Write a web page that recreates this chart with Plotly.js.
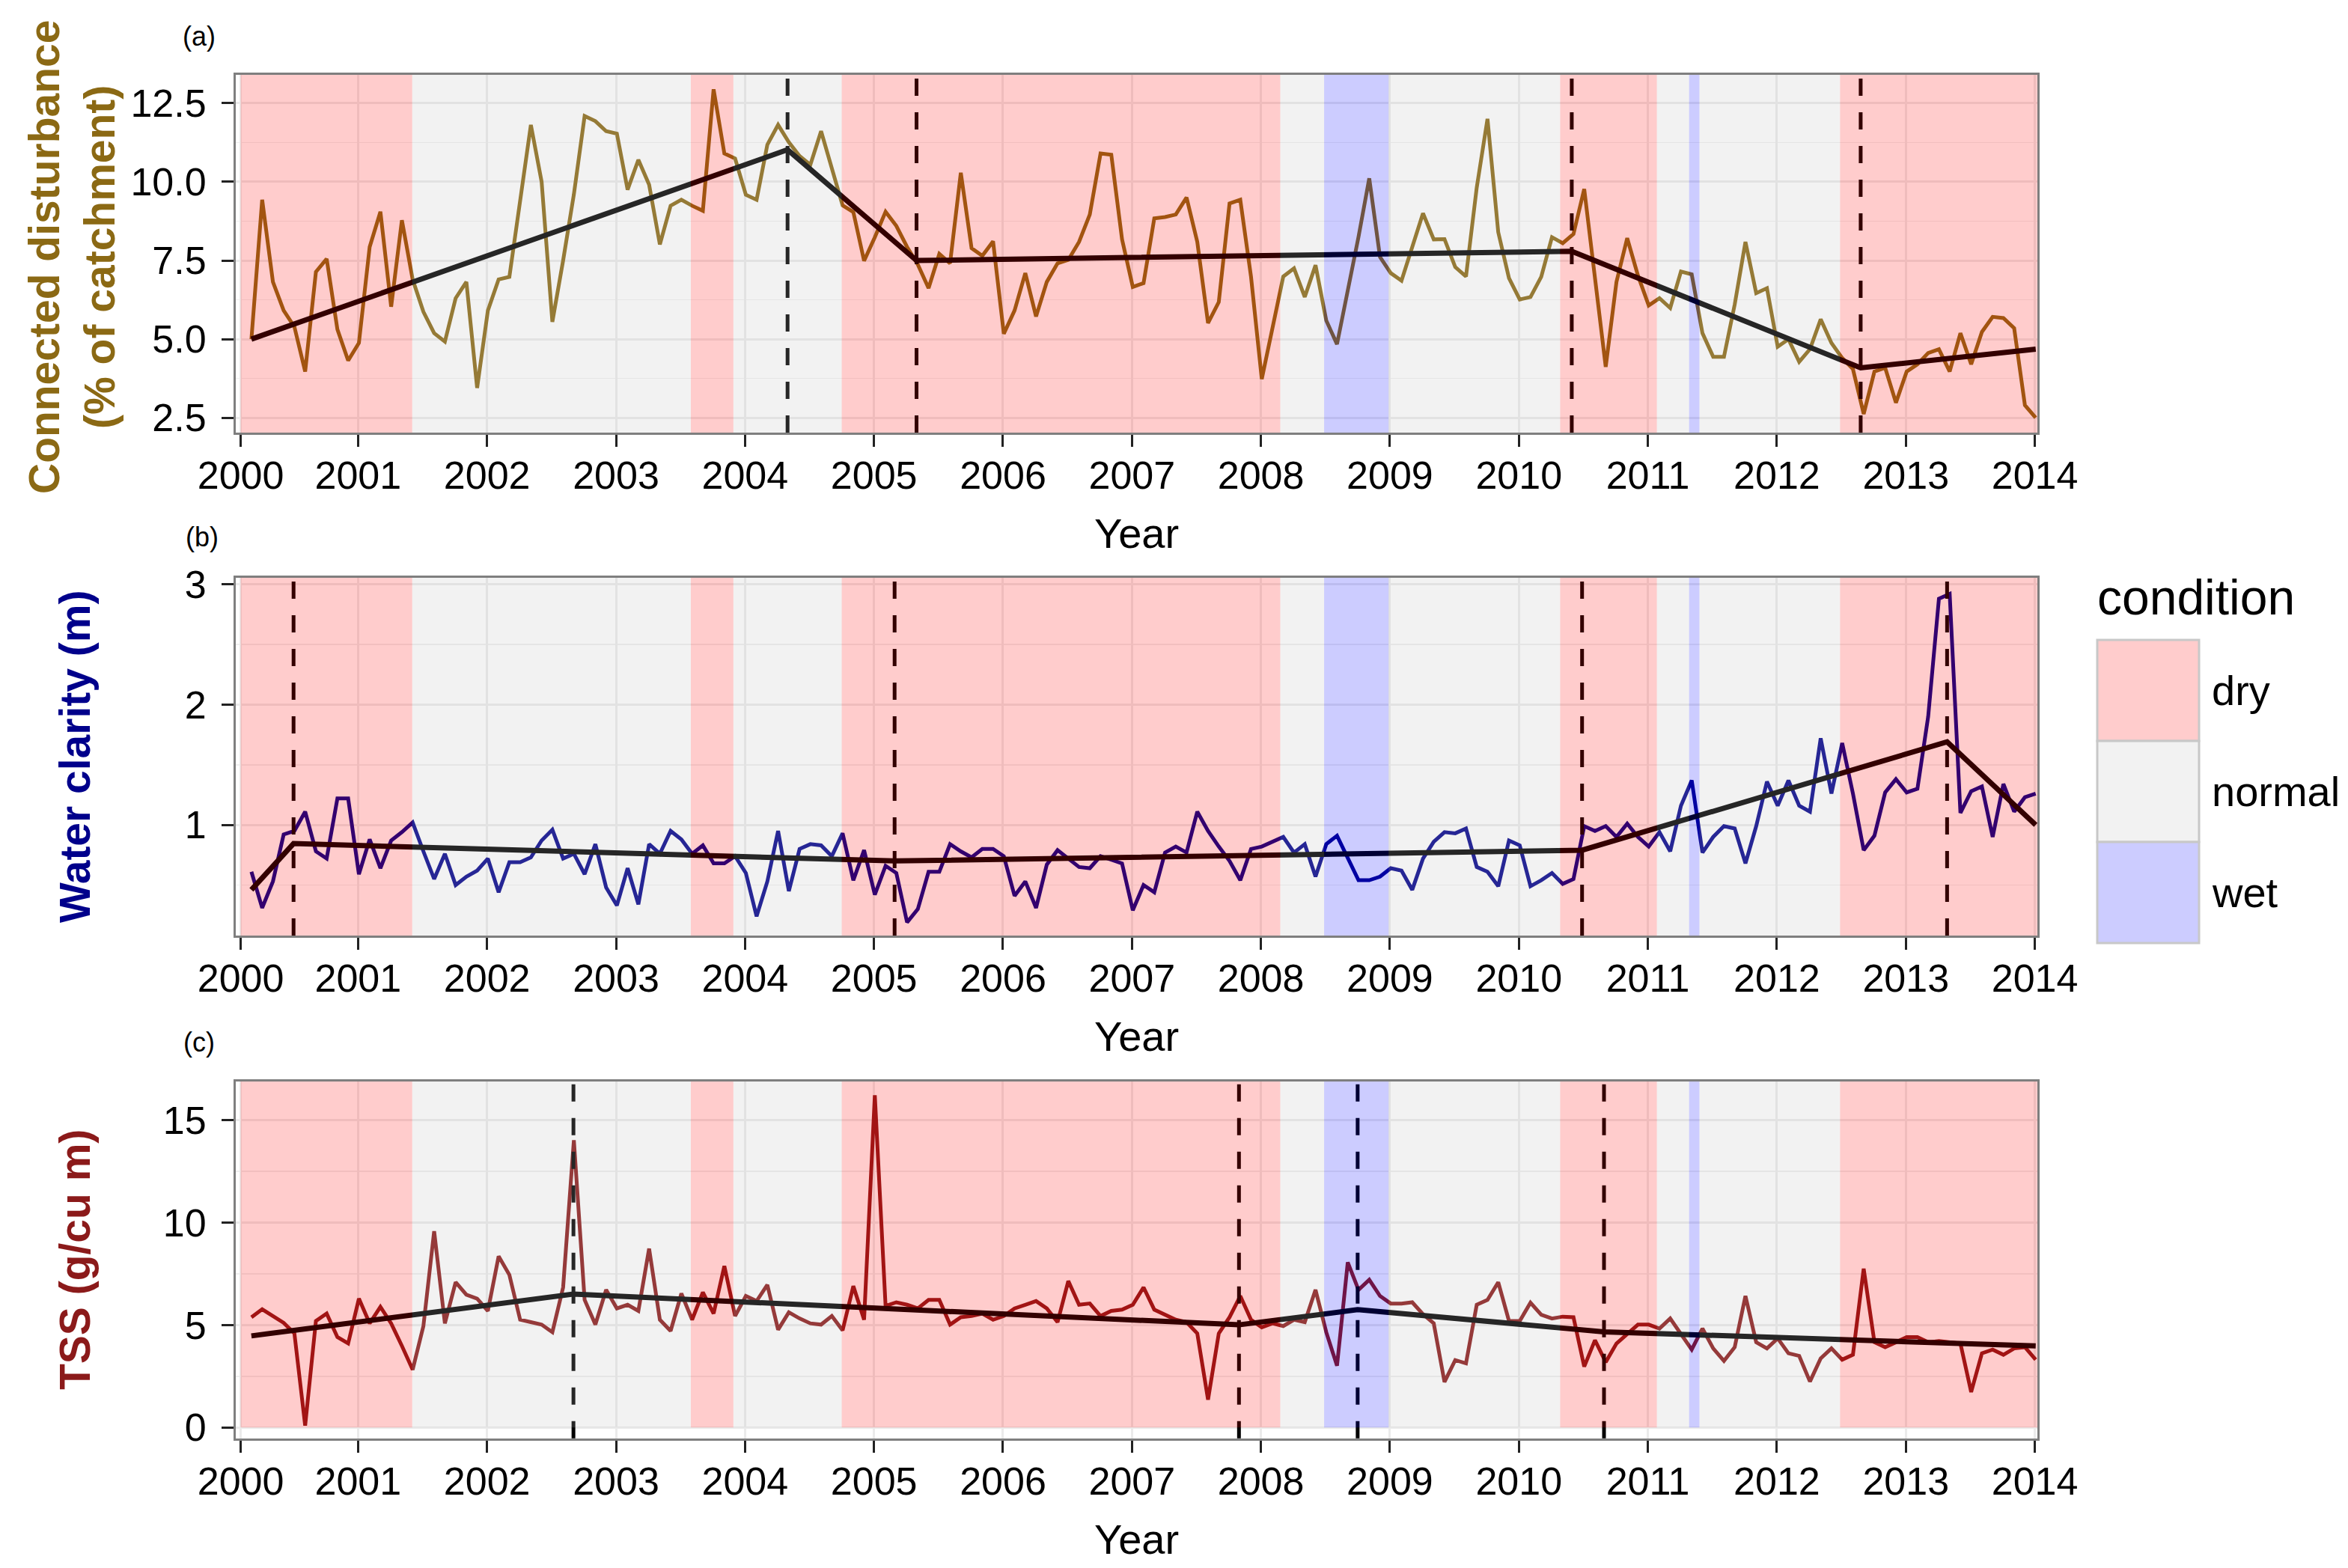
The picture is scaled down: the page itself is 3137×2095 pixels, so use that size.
<!DOCTYPE html>
<html>
<head>
<meta charset="utf-8">
<script src="https://cdn.plot.ly/plotly-3.0.1.min.js"></script>
<style>
html,body{margin:0;padding:0;background:#ffffff;}
#chart{width:3137px;height:2095px;}
</style>
</head>
<body>
<div id="chart"></div>
<script>
// ---------------- DATA (monthly, Feb 2000 .. Dec 2013) ----------------
const disturbance = [5.0,9.43,6.82,5.91,5.39,3.97,7.14,7.55,5.31,4.32,4.88,7.93,9.05,6.03,8.78,6.90,5.87,5.19,4.92,6.30,
  6.82,3.45,5.91,6.90,6.98,9.5,11.81,10.0,5.55,7.5,9.6,12.09,11.93,11.61,11.53,9.75,10.70,9.91,8.01,9.24,
  9.43,9.24,9.08,12.94,10.9,10.74,9.59,9.43,11.18,11.81,11.26,10.82,10.54,11.61,10.38,9.25,9.04,7.49,8.24,9.05,
  8.60,7.93,7.37,6.62,7.71,7.41,10.29,7.89,7.65,8.11,5.17,5.91,7.10,5.72,6.82,7.41,7.52,8.09,8.96,10.9,
  10.86,8.17,6.66,6.78,8.84,8.88,8.96,9.50,8.09,5.51,6.18,9.31,9.43,6.98,3.73,5.39,6.99,7.25,6.34,7.35,
  5.59,4.84,6.5,8.25,10.11,7.61,7.10,6.86,7.93,9.0,8.17,8.18,7.29,6.99,9.82,12.0,8.40,6.94,6.26,6.34,
  6.98,8.24,8.05,8.34,9.77,6.9,4.12,6.82,8.21,7.02,6.07,6.30,5.99,7.15,7.06,5.19,4.44,4.44,6.1,8.09,
  6.46,6.62,4.76,5.0,4.28,4.68,5.63,4.88,4.4,4.05,2.62,3.97,4.09,2.98,3.97,4.2,4.56,4.68,3.97,5.19,
  4.2,5.23,5.71,5.67,5.35,2.9,2.5];

const clarity = [0.61,0.31,0.53,0.92,0.95,1.11,0.78,0.72,1.22,1.22,0.59,0.88,0.64,0.87,0.94,1.02,0.78,0.55,0.76,0.50,
  0.57,0.62,0.72,0.44,0.69,0.69,0.73,0.87,0.96,0.72,0.76,0.59,0.84,0.48,0.33,0.64,0.34,0.84,0.76,0.95,
  0.88,0.76,0.83,0.68,0.68,0.74,0.60,0.24,0.53,0.95,0.45,0.80,0.84,0.83,0.74,0.93,0.54,0.79,0.42,0.66,
  0.60,0.19,0.30,0.61,0.61,0.84,0.78,0.73,0.80,0.80,0.74,0.41,0.53,0.31,0.67,0.79,0.72,0.65,0.64,0.74,
  0.71,0.68,0.29,0.50,0.44,0.77,0.82,0.77,1.11,0.95,0.82,0.70,0.54,0.80,0.82,0.86,0.90,0.77,0.84,0.57,
  0.84,0.91,0.73,0.54,0.54,0.57,0.64,0.62,0.46,0.72,0.86,0.94,0.93,0.97,0.65,0.61,0.49,0.87,0.83,0.49,
  0.54,0.60,0.51,0.55,0.99,0.95,0.99,0.90,1.01,0.90,0.82,0.94,0.78,1.16,1.37,0.77,0.90,0.99,0.97,0.68,
  0.99,1.36,1.16,1.37,1.16,1.11,1.72,1.26,1.68,1.26,0.79,0.91,1.27,1.38,1.27,1.30,1.90,2.88,2.92,1.10,
  1.28,1.32,0.90,1.34,1.11,1.23,1.26];

const tss = [5.38,5.77,5.44,5.11,4.59,0.09,5.20,5.56,4.41,4.10,6.29,5.08,5.89,5.08,3.98,2.82,4.95,9.58,5.08,7.09,
  6.48,6.29,5.69,8.36,7.45,5.26,5.14,5.02,4.65,6.84,14.02,6.23,5.02,6.72,5.81,5.99,5.69,8.73,5.26,4.71,
  6.54,5.26,6.60,5.56,7.88,5.44,6.42,6.17,6.96,4.77,5.62,5.32,5.08,5.02,5.44,4.74,6.90,5.26,16.22,5.93,
  6.11,5.99,5.81,6.23,6.23,5.02,5.38,5.44,5.56,5.26,5.44,5.81,5.99,6.17,5.81,5.14,7.15,5.99,6.05,5.44,
  5.69,5.75,5.99,6.84,5.75,5.50,5.26,5.14,4.59,1.36,4.59,5.38,6.42,5.26,4.89,5.08,4.95,5.26,5.14,6.72,
  4.65,3.01,8.06,6.72,7.21,6.42,6.05,6.05,6.11,5.53,5.08,2.22,3.29,3.13,5.99,6.23,7.09,5.20,5.20,6.09,
  5.50,5.32,5.41,5.38,2.97,4.26,3.19,4.10,4.59,5.02,5.02,4.83,5.32,4.53,3.80,4.83,3.86,3.25,3.92,6.42,
  4.16,3.86,4.35,3.62,3.49,2.24,3.37,3.86,3.31,3.55,7.75,4.16,3.92,4.16,4.41,4.41,4.16,4.22,4.16,4.10,
  1.73,3.62,3.80,3.55,3.86,3.92,3.31];

// piecewise (segmented) trend lines and their breakpoints
const trendXA = [2000.083, 2004.24, 2005.24, 2010.32, 2012.56, 2013.917];
const trendYA = [5.0, 11.02, 7.5, 7.79, 4.09, 4.68];
const breaksA = [2004.24, 2005.24, 2010.32, 2012.56];

const trendXB = [2000.083, 2000.41, 2005.07, 2010.40, 2013.23, 2013.917];
const trendYB = [0.46, 0.845, 0.70, 0.79, 1.69, 1.0];
const breaksB = [2000.41, 2005.07, 2010.40, 2013.23];

const trendXC = [2000.083, 2002.58, 2007.74, 2008.66, 2010.57, 2013.917];
const trendYC = [4.47, 6.51, 5.01, 5.75, 4.67, 3.98];
const breaksC = [2002.58, 2007.74, 2008.66, 2010.57];

// climatic condition periods
const bandStart = [2000.00, 2001.33, 2003.49, 2003.82, 2004.66, 2008.06, 2008.40, 2008.90, 2010.23, 2010.98, 2011.23, 2011.31, 2012.40];
const bandEnd   = [2001.33, 2003.49, 2003.82, 2004.66, 2008.06, 2008.40, 2008.90, 2010.23, 2010.98, 2011.23, 2011.31, 2012.40, 2013.93];
const bandCond  = ['dry','normal','dry','normal','dry','normal','wet','normal','dry','normal','wet','normal','dry'];
const conditions = ['dry','normal','wet'];

// axis ticks
const xTickVals = [2000, 2000.91, 2001.91, 2002.91, 2003.91, 2004.91, 2005.91, 2006.91, 2007.91, 2008.91, 2009.91, 2010.91, 2011.91, 2012.91, 2013.91];
const xTickText = ['2000','2001','2002','2003','2004','2005','2006','2007','2008','2009','2010','2011','2012','2013','2014'];
const yTicksA = [2.5, 5.0, 7.5, 10.0, 12.5];
const yMinorA = [3.75, 6.25, 8.75, 11.25];
const yTicksB = [1, 2, 3];
const yMinorB = [0.5, 1.5, 2.5];
const yTicksC = [0, 5, 10, 15];
const yMinorC = [2.5, 7.5, 12.5];

// ---------------- STYLE ----------------
const W = 3137, H = 2095;
const FONT = 'Liberation Sans, Arial, sans-serif';
const condFill = {dry: 'rgba(255,0,0,0.2)', normal: 'rgba(190,190,190,0.2)', wet: 'rgba(0,0,255,0.2)'};
const condKey = {dry: '#FFCCCC', normal: '#F2F2F2', wet: '#CCCCFF'};
const colA = '#8B6914', colB = '#00008B', colC = '#8B1A1A';

const months = disturbance.map((_, i) => 2000 + (i + 1) / 12);

const xRange = [1999.962, 2013.93];
const yRangeA = [2.03, 13.4];
const yRangeB = [0.08, 3.056];
const yRangeC = [-0.53, 16.89];

const panels = [
  {xa: 'x', ya: 'y', y: disturbance, col: colA, tx: trendXA, ty: trendYA, br: breaksA, range: yRangeA, floor: yRangeA[0]},
  {xa: 'x2', ya: 'y2', y: clarity, col: colB, tx: trendXB, ty: trendYB, br: breaksB, range: yRangeB, floor: yRangeB[0]},
  {xa: 'x3', ya: 'y3', y: tss, col: colC, tx: trendXC, ty: trendYC, br: breaksC, range: yRangeC, floor: 0}
];

const traces = [];
const shapes = [];
panels.forEach(p => {
  traces.push({type: 'scatter', mode: 'lines', x: months, y: p.y, xaxis: p.xa, yaxis: p.ya,
    line: {color: p.col, width: 5}, showlegend: false, hoverinfo: 'skip'});
  traces.push({type: 'scatter', mode: 'lines', x: p.tx, y: p.ty, xaxis: p.xa, yaxis: p.ya,
    line: {color: '#000000', width: 7}, showlegend: false, hoverinfo: 'skip'});
  p.br.forEach(b => shapes.push({type: 'line', xref: p.xa, yref: p.ya + ' domain', x0: b, x1: b, y0: 0, y1: 1,
    line: {color: '#000000', width: 5, dash: '23px,22px'}, layer: 'above'}));
  bandStart.forEach((s, i) => shapes.push({type: 'rect', xref: p.xa, yref: p.ya, x0: s, x1: bandEnd[i],
    y0: p.floor, y1: p.range[1], fillcolor: condFill[bandCond[i]], line: {width: 0}, layer: 'above'}));
});

// manual legend (keys)
const keyX0 = 2802, keyX1 = 2938, keyTop = 855, keyH = 135;
conditions.forEach((c, i) => {
  shapes.push({type: 'rect', xref: 'paper', yref: 'paper', x0: keyX0 / W, x1: keyX1 / W,
    y0: 1 - (keyTop + (i + 1) * keyH) / H, y1: 1 - (keyTop + i * keyH) / H,
    fillcolor: condKey[c], line: {color: '#C8C8C8', width: 3}});
});

const annotations = [];
conditions.forEach((c, i) => annotations.push({xref: 'paper', yref: 'paper', x: 2953 / W, y: 1 - (keyTop + (i + 0.5) * keyH) / H,
  xanchor: 'left', yanchor: 'middle', showarrow: false, text: c, font: {family: FONT, size: 56, color: '#000'}}));
annotations.push({xref: 'paper', yref: 'paper', x: 2800 / W, y: 1 - 798 / H, xanchor: 'left', yanchor: 'middle',
  showarrow: false, text: 'condition', font: {family: FONT, size: 66, color: '#000'}});

// panel labels
[['(a)', 266, 49], ['(b)', 270, 717], ['(c)', 266, 1392]].forEach(l => annotations.push({xref: 'paper', yref: 'paper',
  x: l[1] / W, y: 1 - l[2] / H, xanchor: 'center', yanchor: 'middle', showarrow: false, text: l[0],
  font: {family: FONT, size: 36, color: '#000'}}));

// y-axis titles
[['Connected disturbance<br>(% of catchment)', 96, 344, colA], ['Water clarity (m)', 100, 1011, colB], ['TSS (g/cu m)', 100, 1683, colC]]
  .forEach(t => annotations.push({xref: 'paper', yref: 'paper', x: t[1] / W, y: 1 - t[2] / H, xanchor: 'center', yanchor: 'middle',
    textangle: -90, showarrow: false, text: t[0], font: {family: FONT, size: 57, color: t[3], weight: 700}}));

function xAxis(anchor) {
  return {domain: [315 / W, 2722 / W], anchor: anchor, range: xRange, tickmode: 'array', tickvals: xTickVals, ticktext: xTickText,
    ticks: 'outside', ticklen: 16, tickwidth: 3, tickcolor: '#222222', showline: true, mirror: true, linecolor: '#7F7F7F', linewidth: 3,
    showgrid: true, gridcolor: '#EBEBEB', gridwidth: 3, zeroline: false, ticklabelstandoff: -6,
    tickfont: {family: FONT, size: 52, color: '#000'},
    title: {text: 'Year', font: {family: FONT, size: 56, color: '#000'}, standoff: 30}};
}
function yAxis(anchor, top, bottom, range, ticks, minor, fmt) {
  return {domain: [1 - bottom / H, 1 - top / H], anchor: anchor, range: range, tickmode: 'array', tickvals: ticks,
    tickformat: fmt, ticks: 'outside', ticklen: 16, tickwidth: 3, tickcolor: '#222222', showline: true, mirror: true,
    linecolor: '#7F7F7F', linewidth: 3, showgrid: true, gridcolor: '#EBEBEB', gridwidth: 3, zeroline: false, ticklabelstandoff: 10,
    minor: {tickvals: minor, showgrid: true, gridcolor: '#EFEFEF', gridwidth: 1.5, ticks: ''},
    tickfont: {family: FONT, size: 52, color: '#000'}};
}

const layout = {
  width: W, height: H, margin: {l: 0, r: 0, t: 0, b: 0}, paper_bgcolor: '#ffffff', plot_bgcolor: '#ffffff',
  showlegend: false, font: {family: FONT},
  xaxis: xAxis('y'),
  yaxis: yAxis('x', 100, 578, yRangeA, yTicksA, yMinorA, '.1f'),
  xaxis2: xAxis('y2'),
  yaxis2: yAxis('x2', 771.7, 1250, yRangeB, yTicksB, yMinorB, 'd'),
  xaxis3: xAxis('y3'),
  yaxis3: yAxis('x3', 1445, 1921.7, yRangeC, yTicksC, yMinorC, 'd'),
  shapes: shapes, annotations: annotations
};

Plotly.newPlot('chart', traces, layout, {staticPlot: true, displayModeBar: false});
</script>
</body>
</html>
